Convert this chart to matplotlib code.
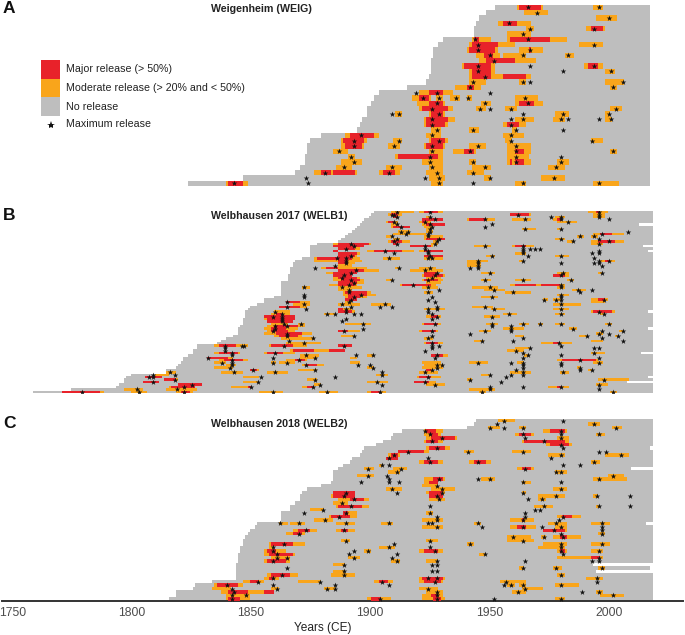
import matplotlib
matplotlib.use("Agg")
import matplotlib.pyplot as plt
from matplotlib.patches import Rectangle
from matplotlib.lines import Line2D

plt.rcParams['font.family'] = ['Liberation Sans', 'DejaVu Sans']

GRAY, ORANGE, RED = '#BEBEBE', '#F9A51B', '#E8222A'

# ---------------- Panel A : Weigenheim ----------------
A_first = [1953,1949,1946,1945,1944,1944,1931,1929,1927,1927,1926,1926,1926,1925,1924,1916,1904,
           1902,1901,1899,1899,1897,1896,1895,1880,1875,1874,1874,1873,1873,1871,1869,1847,1824]
A_last = {}
A_mod = {1:[(1962,1973),(1994,1998)],2:[(1965,1975)],3:[(1995,2004)],4:[(1954,1968)],5:[(1966,1969),(1991,1999)],
 6:[(1958,1968)],7:[(1943,1951),(1958,1983)],8:[(1942,1961),(1988,1998)],9:[(1941,1954),(1963,1973)],
 10:[(1945,1955),(1956,1966),(1982,1986)],11:[(1946,1970)],12:[(1939,1953),(1990,1998)],13:[(1942,1953),(1999,2003)],
 14:[(1942,1968)],15:[(1942,1949),(1963,1966),(1999,2007)],16:[(1936,1947),(2001,2004)],17:[(1921,1935)],
 18:[(1918,1926),(1928,1931),(1934,1938),(1941,1943),(1961,1971)],19:[(1920,1932),(1947,1951),(1961,1973)],
 20:[(1921,1935),(1945,1949),(1957,1962),(2001,2006)],21:[(1911,1914),(1925,1932),(1978,1984),(1999,2001)],
 22:[(1923,1936),(1961,1969),(1977,1982),(1999,2002)],23:[(1923,1933),(1956,1966)],
 24:[(1926,1930),(1942,1946),(1960,1962)],25:[(1890,1904),(1924,1930),(1956,1965)],
 26:[(1888,1899),(1910,1914),(1925,1933),(1957,1960),(1993,1998)],27:[(1888,1898),(1908,1913),(1923,1932),(1942,1949),(1958,1968)],
 28:[(1885,1891),(1925,1931),(1935,1945),(1958,1968),(2001,2004)],29:[(1891,1894),(1911,1931),(1958,1967)],
 30:[(1888,1897),(1922,1931),(1942,1945),(1958,1968),(1979,1984)],31:[(1886,1893),(1907,1914),(1925,1931),(1943,1951),(1975,1982)],
 32:[(1877,1895),(1904,1913),(1924,1931),(1941,1948)],33:[(1925,1932),(1948,1951),(1972,1982)],
 34:[(1840,1849),(1926,1931),(1961,1966),(1994,2005)]}
A_maj = {1:[(1963,1972)],4:[(1956,1962)],5:[(1993,1998)],7:[(1944,1946),(1959,1976)],8:[(1943,1954)],
 9:[(1942,1953),(1967,1968)],10:[(1948,1952)],11:[(1949,1961)],12:[(1940,1951),(1992,1996)],13:[(1943,1951)],
 14:[(1943,1951),(1956,1966)],16:[(1941,1944)],17:[(1925,1931)],18:[(1921,1925)],19:[(1925,1931),(1963,1969)],
 20:[(1922,1933)],21:[(1926,1931)],22:[(1924,1933)],23:[(1924,1932),(1958,1963)],25:[(1892,1902)],
 26:[(1889,1898),(1926,1932)],27:[(1890,1897),(1924,1931)],28:[(1940,1944),(1961,1965)],29:[(1912,1929)],
 30:[(1959,1960),(1961,1965)],32:[(1880,1884),(1885,1894),(1906,1911)],34:[(1841,1847)]}
A_star = {1:[1966,1996],2:[1970],3:[2000],4:[1958],5:[1967,1994],6:[1964],7:[1944,1966],8:[1945,1994],9:[1945,1967],
 10:[1950,1964,1983],11:[1952],12:[1945,1967,1994],13:[1945,1981,2001],14:[1948],15:[1943,1964,1967,2006],16:[1942,2002],
 17:[1919,1928,1950],18:[1922,1929,1936,1941,1965],19:[1928,1948,1966],20:[1926,1946,1950,1959,2003],
 21:[1909,1912,1929,1964,1981,2000],22:[1926,1959,1964,1980,1983,1996,2001],23:[1926,1959],24:[1928,1943,1961,1981],
 25:[1896,1926,1959],26:[1893,1912,1929,1959,1993],27:[1893,1910,1926,1945,1961],28:[1887,1926,1942,1961,2002],
 29:[1892,1925,1961,1980],30:[1893,1925,1943,1961,1980],31:[1889,1909,1926,1948,1978],32:[1881,1908,1928,1943],
 33:[1873,1923,1929,1950,1977],34:[1843,1874,1929,1943,1964,1996]}

# ---------------- Panel B : Welbhausen 2017 ----------------
B_first = [1902,1901,1900,1898,1897,1896,1895,1894,1893,1891,1890,1888,1887,1878,1875,1875,1875,1875,1875,1872,
           1869,1868,1868,1867,1867,1867,1866,1866,1866,1863,1863,1863,1863,1863,1863,1860,1856,1856,1853,1850,
           1849,1848,1848,1848,1847,1847,1847,1846,1845,1845,1845,1843,1840,1838,1836,1828,1828,1826,1826,1824,
           1822,1822,1821,1820,1819,1815,1815,1800,1798,1797,1797,1795,1794,1775,1759]
B_last = {6:2013,15:2015,17:2017,42:2017,49:2017,59:2014,69:2017,71:2008}
B_mod = {1:[(1909,1919),(1921,1931),(1992,2000)],2:[(1908,1914),(1959,1968),(1994,1999)],3:[(1910,1912),(1924,1926),(1978,1982),(1994,1999)],
 4:[(1922,1931),(1941,1953),(1960,1968),(1977,1981)],5:[(1907,1912),(1921,1926),(1979,1987)],6:[(1909,1912),(1922,1931)],
 7:[(1909,1917),(1923,1927)],8:[(1924,1926),(1964,1970),(1979,1981)],9:[(1912,1917),(1924,1927)],10:[(1910,1924),(1994,2007)],
 11:[(1907,1910),(1923,1931),(1987,1990),(1993,1996)],12:[(1910,1913),(1923,1932),(1978,1982)],13:[(1908,1917),(1927,1929),(1983,1986),(1993,2007)],
 14:[(1885,1901),(1926,1929),(1993,1998)],15:[(1885,1898),(1917,1927),(1944,1951),(1960,1969)],16:[(1887,1896)],
 17:[(1885,1887),(1899,1919),(1921,1931)],18:[(1887,1896),(1961,1966)],19:[(1887,1895),(1923,1931),(1949,1953),(1978,1984)],
 20:[(1877,1896),(1906,1913),(1923,1931)],21:[(1877,1897),(1941,1950),(1963,1965),(1997,2003)],22:[(1887,1894),(1941,1947)],
 23:[(1887,1893),(1941,1947)],24:[(1880,1899),(1911,1913),(1921,1928)],25:[(1887,1904),(1917,1931)],26:[(1882,1895),(1924,1929),(1947,1953),(1979,1984),(1996,1998)],
 27:[(1885,1893),(1922,1932),(1977,1984)],28:[(1885,1896),(1924,1930)],29:[(1885,1898),(1907,1910),(1922,1931),(1947,1951),(1961,1968),(1983,1986)],
 30:[(1887,1898),(1924,1930)],31:[(1883,1895),(1913,1928),(1959,1982)],32:[(1872,1875),(1887,1897),(1922,1929),(1943,1954),(1979,1982)],
 33:[(1887,1893),(1948,1957),(1985,1991)],34:[(1889,1901),(1923,1927),(1957,1968)],35:[(1889,1903),(1979,1984)],36:[(1890,1899),(1947,1954)],
 37:[(1890,1895),(1973,1975),(1977,1981),(1993,2000)],38:[(1871,1875),(1890,1893),(1993,1999)],39:[(1868,1875),(1887,1896),(1901,1909),(1977,1989)],
 40:[(1871,1874),(1943,1952)],41:[(1887,1893),(1923,1932),(1951,1957),(1977,1984)],42:[(1860,1867),(1887,1894),(1993,2003)],
 43:[(1859,1867),(1881,1886),(1956,1962),(1978,1982),(1997,1999)],44:[(1856,1869),(1924,1930),(1948,1955)],45:[(1856,1869)],46:[(1857,1868)],
 47:[(1859,1866),(1870,1873),(1890,1901),(1922,1930),(1949,1954),(1963,1967),(1971,1973),(1978,1982),(1999,2002)],
 48:[(1857,1873)],49:[(1856,1870),(1956,1965),(1984,1987)],50:[(1857,1869),(1887,1896),(1921,1929),(1946,1951),(2005,2007)],
 51:[(1856,1876),(1995,1998)],52:[(1860,1872),(1888,1894),(1961,1965),(1988,1992),(2003,2005)],53:[(1863,1877),(1923,1927)],
 54:[(1944,1948),(1993,1998)],55:[(1865,1880),(1923,1931),(1972,1985)],56:[(1835,1846),(1846,1849),(1858,1874)],
 57:[(1961,1968)],58:[(1867,1890),(1958,1965)],59:[(1835,1846),(1856,1869),(1993,1999)],60:[(1871,1879),(1899,1902),(1926,1933),(1965,1967)],
 61:[(1832,1843),(1871,1878),(1892,1895)],62:[(1837,1849),(1865,1874),(1979,1996)],63:[(1835,1840),(1859,1861),(1862,1869),(1892,1896),(1922,1930),(1942,1950),(1962,1965),(1994,1998)],
 64:[(1840,1844),(1872,1881),(1923,1931)],65:[(1835,1843),(1899,1902),(1922,1931),(1987,1989)],66:[(1850,1854),(1870,1878),(1924,1927),(1992,1994)],
 67:[(1815,1819),(1838,1847),(1857,1866),(1921,1929),(1959,1968),(1980,1984)],68:[(1810,1816),(1903,1908),(1947,1951)],69:[(1806,1813),(1847,1854),(1920,1930)],
 70:[(1814,1820),(1874,1878),(1941,1943),(1996,2009)],71:[(1805,1812),(1847,1854),(1899,1908),(1919,1928)],72:[(1820,1830),(1877,1880),(1924,1932),(1995,2000)],
 73:[(1816,1827),(1842,1851),(1872,1877),(1975,1984)],74:[(1797,1805),(1815,1828),(1942,1953)],75:[(1771,1789),(1800,1807),(1819,1826),(1854,1864),(1879,1887),(1899,1907),(1946,1949),(2001,2004)]}
B_maj = {1:[(1923,1929),(1995,1997)],2:[(1909,1912),(1959,1967)],3:[(1910,1912)],4:[(1922,1931),(1942,1949),(1979,1981)],5:[(1908,1911),(1922,1924)],
 6:[(1924,1932)],7:[(1910,1917)],10:[(1997,2002)],12:[(1924,1932)],13:[(1909,1914),(1996,2003)],14:[(1887,1900),(1910,1912)],
 15:[(1885,1898),(1917,1926),(1961,1966)],16:[(1887,1894)],17:[(1885,1887),(1902,1914),(1923,1931)],18:[(1887,1895)],19:[(1887,1894),(1923,1931)],
 20:[(1878,1893)],21:[(1887,1891),(1999,2001)],22:[(1887,1891)],24:[(1882,1887)],25:[(1887,1898)],26:[(1885,1895),(1923,1929)],
 27:[(1885,1893),(1923,1931),(1977,1982)],28:[(1887,1895)],29:[(1888,1896),(1923,1929)],30:[(1887,1895)],31:[(1887,1894),(1914,1926),(1961,1970),(1972,1980)],
 34:[(1890,1899)],35:[(1891,1899)],36:[(1891,1896)],37:[(1890,1895),(1996,1999)],38:[(1865,1871)],40:[(1862,1871)],41:[(1887,1889)],
 42:[(1887,1893),(1994,2002)],43:[(1861,1864)],44:[(1856,1869),(1926,1929)],45:[(1857,1869)],46:[(1857,1868)],47:[(1923,1929)],
 48:[(1860,1870)],49:[(1859,1865)],50:[(1859,1866),(1887,1891),(1922,1928)],51:[(1861,1872)],52:[(1862,1870)],55:[(1924,1929),(1977,1980)],
 56:[(1837,1844),(1859,1868),(1887,1893)],58:[(1868,1877),(1883,1890)],59:[(1837,1845),(1857,1864)],60:[(1926,1931)],61:[(1832,1841)],
 62:[(1839,1847),(1869,1873),(1981,1995)],64:[(1873,1878)],66:[(1850,1853),(1924,1926)],69:[(1806,1813),(1921,1926)],70:[(1814,1819)],71:[(1805,1812),(1919,1925)],
 72:[(1820,1830)],73:[(1817,1827),(1849,1851),(1874,1877),(1979,1981)],75:[(1771,1787),(1821,1825),(1901,1905)]}
B_star = {1:[1911,1925,1996],2:[1909,1910,1962,1996],3:[1911,1925,1976,1980,1996],4:[1927,1948,1965,1980,2000],5:[1910,1923,1983],
 6:[1911,1925,1951],7:[1913,1926,1948],8:[1925,1965,1980],9:[1913,1916,1925,2008],10:[1915,1924,1997],11:[1909,1924,1988,1994],
 12:[1911,1929,1980,1996],13:[1910,1928,1985,2000],14:[1892,1911,1927,1996],15:[1893,1923,1948,1964],16:[1890,1923,1964,1967,1969,1971],
 17:[1906,1924,1964,1996],18:[1910,1924,1964,1993,1996],19:[1892,1925,1951,1966,1980],20:[1886,1890,1908,1924,1926,1994],
 21:[1890,1945,1964,1996,2000],22:[1890,1945,1980,1994,1996],23:[1885,1945,1997],24:[1877,1912,1925,1942,1945],25:[1894,1923],
 26:[1892,1928,1950,1981,1997],27:[1889,1927,1980],28:[1888,1926],29:[1892,1909,1924,1948,1964,1984],30:[1893],
 31:[1891,1918,1980],32:[1872,1888,1924,1950,1980],33:[1891,1929,1952,1987,1993],34:[1891,1924,1960,1988],
 35:[1872,1896,1980],36:[1872,1893,1926,1951,1980],37:[1892,1924,1973,1978,1980,1998],38:[1865,1891,1927],39:[1872,1888,1906,1980],
 40:[1865,1892,1904,1909,1928,1948],41:[1873,1890,1928,1924,1952,1980],42:[1860,1890,1924,1996],43:[1863,1882,1885,1893,1896,1926,1958,1980,1998],
 44:[1859,1863,1928,1951],45:[1863,1890,1926],46:[1863,1888],47:[1864,1871,1897,1927,1951,1964,1971,1980,2000],48:[1860,1865,1951,1959],
 49:[1860,1897,1959,1985],50:[1859,1889,1926,1948,1959,1997,2006],51:[1865,1942,1996,2000],52:[1865,1893,1926,1991,2004],
 53:[1876,1924,1964,1997],54:[1866,1947,1960,2006],55:[1872,1926,1979],56:[1839,1846,1847,1864,1889,1926,1929,1980],
 57:[1839,1926,1967,1994,1996],58:[1839,1923,1961],59:[1842,1860,1964,1994],60:[1842,1873,1894,1901,1928,1966,1980],
 61:[1832,1859,1877,1927,1964,1996],62:[1842,1870,1988],63:[1838,1842,1859,1865,1945,1959,1964,1980,1996],
 64:[1842,1873,1895,1900,1930,1928,1964,1980],65:[1841,1901,1928,1964,1988],66:[1851,1877,1926,1961,1988,1993],
 67:[1816,1843,1860,1905,1923,1964,1981],68:[1809,1818,1905,1950,1959,1964],69:[1807,1809,1854,1885,1924,1957],
 70:[1818,1877,1942,1998],71:[1809,1853,1903,1923,1955],72:[1825,1879,1905,1927,1996],73:[1822,1850,1876,1950,1964,1980],
 74:[1802,1819,1950,1996],75:[1779,1803,1822,1859,1882,1904,1947,2002]}

# ---------------- Panel C : Welbhausen 2018 ----------------
C_first = [1945,1944,1941,1914,1910,1909,1906,1903,1898,1897,1896,1893,1892,1889,1887,1885,1885,1885,1884,1880,
           1874,1872,1871,1871,1869,1867,1867,1863,1863,1863,1853,1852,1850,1849,1848,1847,1847,1846,1846,1845,
           1845,1845,1844,1844,1844,1844,1844,1834,1827,1826,1819,1819,1816]
C_last = {9:2018,15:2010,31:2016,43:1994,44:2018,45:1995}
C_mod = {1:[(1954,1961)],2:[(1992,1997)],3:[(1950,1955),(1963,1966),(2002,2006)],4:[(1923,1931),(1973,1983)],5:[(1923,1930),(1961,1969),(1995,1999)],
 6:[(1924,1937),(1979,1984)],7:[(1923,1931),(1964,1984)],8:[(1974,1985)],9:[(1924,1934)],10:[(1912,1925),(1940,1944),(1960,1968)],
 11:[(1908,1913),(1975,1982),(1999,2009)],12:[(1907,1912)],13:[(1921,1931),(1942,1951),(1993,1997)],14:[(1904,1906)],15:[(1898,1902),(1910,1916),(1962,1969)],
 16:[(1908,1913),(1978,1983)],17:[(1895,1902),(2000,2007)],18:[(1923,1932),(1947,1953),(1994,2008)],19:[(1923,1929),(1964,1968)],20:[(1922,1929)],
 21:[(1907,1914),(1926,1936),(1977,1983)],22:[(1885,1888),(1924,1932),(1964,1966)],23:[(1884,1894),(1971,1982),(1994,1996)],24:[(1887,1900),(1925,1932),(1971,1974)],
 25:[(1885,1891)],26:[(1886,1900),(1969,1977),(1995,1997)],27:[(1875,1881)],28:[(1889,1895),(1924,1927)],29:[(1883,1895),(1979,1989)],30:[(1877,1885),(1922,1931),(1959,1969)],
 31:[(1862,1866),(1867,1873),(1886,1894),(1905,1910),(1944,1947),(1975,1983),(1993,2001)],32:[(1922,1931),(1959,1970),(1978,1983)],
 33:[(1868,1878),(1886,1894),(1973,1983)],34:[(1865,1873),(1996,1999)],35:[(1958,1968),(1972,1974),(1977,1989)],36:[(1888,1892),(1924,1929),(1958,1969)],
 37:[(1858,1873),(1941,1944),(1973,1983),(1993,2001)],38:[(1858,1860),(1904,1911),(1971,1982)],39:[(1856,1865),(1898,1901),(1921,1931),(1979,1983),(1993,1998)],
 40:[(1856,1869),(1946,1949)],41:[(1859,1867),(1891,1896),(1979,1998)],42:[(1856,1867),(1909,1913),(1924,1929)],43:[(1885,1890)],44:[(1963,1965),(1977,1981),(1996,1999)],
 45:[(1885,1890)],46:[(1857,1870),(1884,1894),(1979,1982)],47:[(1856,1862),(1921,1932),(1991,1998)],48:[(1847,1856),(1870,1880),(1902,1910),(1921,1931),(1955,1966)],
 49:[(1835,1847),(1958,1961),(1963,1966),(1978,1988)],50:[(1834,1842),(1859,1862),(1881,1886),(1921,1929),(1964,1973)],51:[(1838,1860),(1924,1931),(1960,1966),(1995,1998)],
 52:[(1840,1850),(1922,1931),(1997,2007)],53:[(1840,1850),(1899,1909),(1922,1932),(1978,1982)]}
C_maj = {4:[(1924,1928),(1976,1982)],5:[(1925,1929),(1963,1968)],6:[(1926,1936)],7:[(1924,1929),(1965,1982)],8:[(1976,1984)],9:[(1925,1932)],
 10:[(1912,1923)],11:[(1909,1912)],12:[(1907,1912)],13:[(1923,1929),(1944,1949)],15:[(1964,1968)],18:[(1927,1931)],19:[(1925,1929)],22:[(1885,1894),(1925,1931)],
 23:[(1885,1894),(1925,1931)],24:[(1892,1898)],26:[(1887,1897)],28:[(1889,1891)],29:[(1884,1892),(1981,1985)],30:[(1964,1965)],32:[(1962,1966)],
 33:[(1870,1875),(1888,1891),(1973,1982)],34:[(1868,1872)],35:[(1980,1983)],37:[(1859,1868)],39:[(1857,1861),(1923,1929),(1980,1982)],40:[(1858,1868)],
 42:[(1857,1865)],41:[(1993,1997)],46:[(1859,1867)],47:[(1858,1860),(1922,1931)],48:[(1850,1854),(1904,1908),(1923,1930)],49:[(1836,1845)],
 51:[(1841,1849),(1856,1860)],52:[(1926,1929)],53:[(1841,1846),(1901,1905),(1927,1930)]}
C_star = {1:[1956,1981],2:[1953,1994],3:[1950,1956,1964,2003],4:[1923,1980],5:[1925,1964,1980,1996],6:[1930,1965,1980],7:[1926,1973],8:[1980],
 9:[1928,1981],10:[1916,1941,1964,1996,1999],11:[1910,1980,2005],12:[1908,1924,1976],13:[1925,1945,1994],14:[1905,1908,1981,1988],
 15:[1899,1913,1965],16:[1911,1978,1980],17:[1899,1907,2002],18:[1908,1929,1945,1950,1996],19:[1896,1908,1912,1964,1980],20:[1928],
 21:[1909,1930,1980],22:[1890,1911,1930,1964],23:[1889,1928,1978,1995,2009],24:[1893,1929,1966,1972],25:[1888],26:[1892,1925,1973,1996,2009],
 27:[1880,1969,1971],28:[1872,1890,1925,1965],29:[1887,1928,1965,1981],30:[1881,1928,1964,1979],31:[1862,1870,1890,1908,1924,1926,1945,1978,1997],
 32:[1928,1947,1964,1972,1980,1997],33:[1873,1889,1977,1997],34:[1870,1980,1997],35:[1960,1973,1981],36:[1890,1925,1964],37:[1864,1910,1942,1980,1997],
 38:[1859,1908,1925,1980],39:[1859,1893,1899,1927,1980,1996],40:[1861,1891,1911,1948,1981],41:[1861,1865,1893,1909,1996],42:[1859,1911,1928,1965,1993,1996],
 43:[1889,1926,1928],44:[1865,1964,1978,1997],45:[1889,1926,1928],46:[1863,1889,1980],47:[1859,1924,1928,1995],48:[1853,1879,1905,1927,1957,1995],
 49:[1840,1859,1885,1908,1956,1959,1964,1980],50:[1842,1861,1882,1885,1924,1965],51:[1843,1928,1962,1989,1996],52:[1842,1848,1928,2002],
 53:[1842,1904,1928,1952,1980]}

PANELS = [('Weigenheim (WEIG)', 'A', 4.7, 186.0, A_first, A_last, A_mod, A_maj, A_star, 2018),
          ('Welbhausen 2017 (WELB1)', 'B', 211.0, 393.0, B_first, B_last, B_mod, B_maj, B_star, 2019),
          ('Welbhausen 2018 (WELB2)', 'C', 419.0, 600.5, C_first, C_last, C_mod, C_maj, C_star, 2019)]
XTICKS = [1750, 1800, 1850, 1900, 1950, 2000]
XLABEL = 'Years (CE)'
LEGEND = ['Major release (> 50%)', 'Moderate release (> 20% and < 50%)', 'No release', 'Maximum release']

W, H = 685, 635
fig = plt.figure(figsize=(W/100, H/100), dpi=100)
fig.patch.set_facecolor('white')
x0, x1 = 2, 683
xlim = (1750 + (x0-12.7)/2.384, 1750 + (x1-12.7)/2.384)

def draw_spans(ax, spans, color, z):
    for row, items in spans.items():
        for s, e in items:
            ax.barh(row, e-s, left=s-0.5, height=1.0, color=color, linewidth=0, zorder=z)

for i, (title, letter, top, bottom, first, last, mod, maj, star, end) in enumerate(PANELS):
    ax = fig.add_axes([x0/W, 1-bottom/H, (x1-x0)/W, (bottom-top)/H])
    ax.set_xlim(*xlim)
    ax.set_ylim(len(first)+0.5, 0.5)
    ax.patch.set_alpha(0)
    for r, s in enumerate(first, start=1):
        e = last.get(r, end)
        ax.barh(r, e-s, left=s-0.5, height=1.0, color=GRAY, linewidth=0, zorder=1)
    draw_spans(ax, mod, ORANGE, 2)
    draw_spans(ax, maj, RED, 3)
    xs = [y for r in star for y in star[r]]
    ys = [r for r in star for y in star[r]]
    ax.scatter(xs, ys, marker='*', s=18, color='#111111', linewidths=0, zorder=4)
    for sp in ['top', 'left', 'right']:
        ax.spines[sp].set_visible(False)
    ax.set_yticks([])
    if i < 2:
        ax.spines['bottom'].set_visible(False)
        ax.set_xticks([])
    else:
        ax.spines['bottom'].set_color('#333333')
        ax.spines['bottom'].set_linewidth(1.4)
        ax.set_xticks(XTICKS)
        ax.tick_params(axis='x', length=0, pad=5, labelsize=8.8, labelcolor='#4d4d4d')
    fig.text(211/W, 1-(top+4.8)/H, title, fontsize=7.7, fontweight='bold', color='#222222', ha='left', va='center')
    fig.text(3/W, 1-(top+4.0)/H, letter, fontsize=12.5, fontweight='bold', color='#111111', ha='left', va='center')

fig.text(323/W, 1-627.5/H, XLABEL, fontsize=8.6, color='#222222', ha='center', va='center')

# legend
for (y, c) in zip([60, 78.5, 97], [RED, ORANGE, GRAY]):
    fig.add_artist(Rectangle((41/W, 1-(y+18.5)/H), 18.5/W, 18.5/H, transform=fig.transFigure, facecolor=c, edgecolor='none'))
fig.add_artist(Line2D([50.5/W], [1-124.5/H], marker='*', markersize=6, color='#111111', markeredgewidth=0, linestyle='none', transform=fig.transFigure))
for y, t in zip([69.5, 88, 106.5, 124], LEGEND):
    fig.text(65.5/W, 1-y/H, t, fontsize=7.65, color='#222222', ha='left', va='center')

fig.savefig('out.png', dpi=100)
